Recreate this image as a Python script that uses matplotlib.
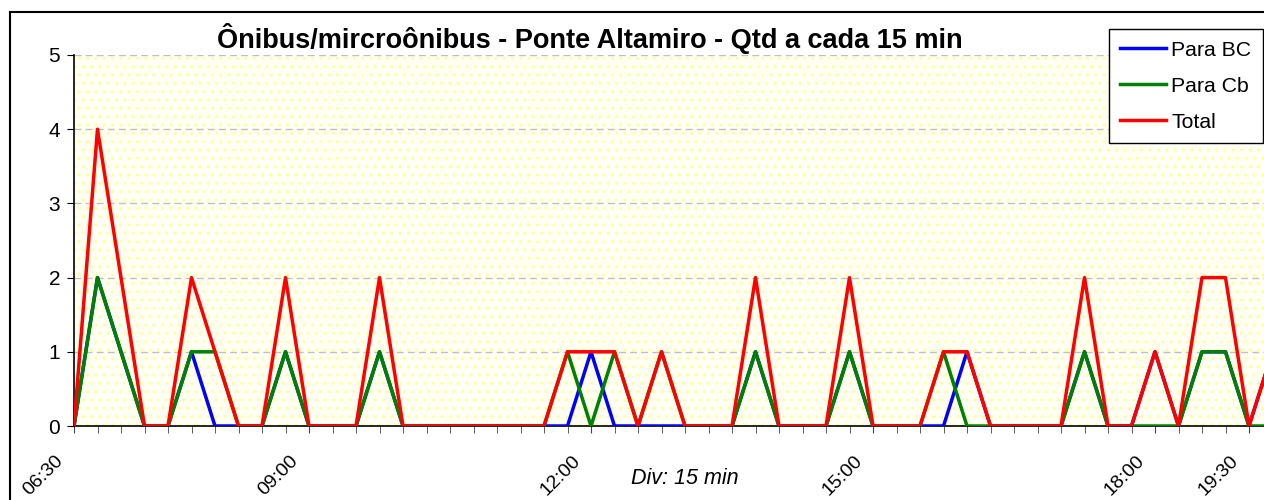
import matplotlib
matplotlib.use("Agg")
import matplotlib.pyplot as plt
from matplotlib.patches import Rectangle
from matplotlib.lines import Line2D
from matplotlib.transforms import ScaledTranslation

plt.rcParams['font.family'] = ['Liberation Sans', 'DejaVu Sans']
plt.rcParams['hatch.linewidth'] = 1.0

# 15-minute slots starting at 06:30
para_bc = [0, 2, 1, 0, 0, 1, 0, 0, 0, 1,
           0, 0, 0, 1, 0, 0, 0, 0, 0, 0,
           0, 0, 1, 0, 0, 0, 0, 0, 0, 1,
           0, 0, 0, 1, 0, 0, 0, 0, 1, 0,
           0, 0, 0, 1, 0, 0, 1, 0, 1, 1,
           0, 1]
para_cb = [0, 2, 1, 0, 0, 1, 1, 0, 0, 1,
           0, 0, 0, 1, 0, 0, 0, 0, 0, 0,
           0, 1, 0, 1, 0, 1, 0, 0, 0, 1,
           0, 0, 0, 1, 0, 0, 0, 1, 0, 0,
           0, 0, 0, 1, 0, 0, 0, 0, 1, 1,
           0, 0]
total = [a + b for a, b in zip(para_bc, para_cb)]
slots = list(range(len(total)))

tick_slots = [0, 10, 22, 34, 46, 50]
tick_labels = ['06:30', '09:00', '12:00', '15:00', '18:00', '19:30']

W, H = 1264, 500
fig = plt.figure(figsize=(W / 100, H / 100), dpi=100)
fig.patch.set_facecolor('white')

# outer chart frame (cropped on right/bottom)
fig.add_artist(Line2D([10 / W, 10 / W], [0, 1 - 12 / H], color='black', lw=1.5))
fig.add_artist(Line2D([10 / W, 1], [1 - 12 / H, 1 - 12 / H], color='black', lw=1.5))

ax = fig.add_axes([74 / W, 74 / H, (W - 74) / W, 371 / H])
ax.set_facecolor('white')
# pale yellow dotted plot-area fill
bg = Rectangle((0, 0), 1, 1, transform=ax.transAxes, facecolor='#FFFFF4',
               edgecolor='#FFFFA0', hatch='..', lw=0, zorder=0)
ax.add_patch(bg)

ax.plot(slots, para_bc, color='#0000FF', lw=2.5, label='Para BC', zorder=3)
ax.plot(slots, para_cb, color='#008000', lw=2.5, label='Para Cb', zorder=4)
ax.plot(slots, total, color='#FF0000', lw=2.5, label='Total', zorder=5)

ax.set_xlim(0, (W - 74) / 23.5)
ax.set_ylim(0, 5)
ax.set_yticks(range(6))
ax.tick_params(axis='y', labelsize=15, length=5, direction='out', pad=5)
for y in range(1, 6):
    ax.axhline(y, color='#C0C0C0', lw=1, ls=(0, (5, 3)), zorder=1)

ax.set_xticks(slots[:51], minor=True)
ax.set_xticks(tick_slots)
ax.set_xticklabels(tick_labels, rotation=45, ha='right', va='top',
                   rotation_mode='anchor', fontsize=14)
ax.tick_params(axis='x', which='both', length=5, color='#444444', pad=14)
shift = ScaledTranslation(-0.19, 0, fig.dpi_scale_trans)
for lbl in ax.get_xticklabels():
    lbl.set_transform(lbl.get_transform() + shift)

for s in ['top', 'right']:
    ax.spines[s].set_visible(False)
ax.spines['left'].set_linewidth(1.2)
ax.spines['bottom'].set_linewidth(1.2)

fig.text(590 / W, 1 - 38 / H, 'Ônibus/mircroônibus - Ponte Altamiro - Qtd a cada 15 min',
         ha='center', va='center', fontsize=19.5, fontweight='bold')
fig.text(685 / W, 1 - 478 / H, 'Div: 15 min', ha='center', va='center',
         fontsize=15.5, style='italic')

leg = ax.legend(loc='upper right', bbox_to_anchor=(1263 / W, 1 - 29 / H),
                bbox_transform=fig.transFigure, borderaxespad=0, fontsize=15.3,
                frameon=True, fancybox=False, handlelength=2.15, labelspacing=0.8,
                borderpad=0.55, handletextpad=0.25)
leg.get_frame().set_edgecolor('black')
leg.get_frame().set_linewidth(1)
leg.get_frame().set_alpha(1)

fig.savefig('out.png', dpi=100)
